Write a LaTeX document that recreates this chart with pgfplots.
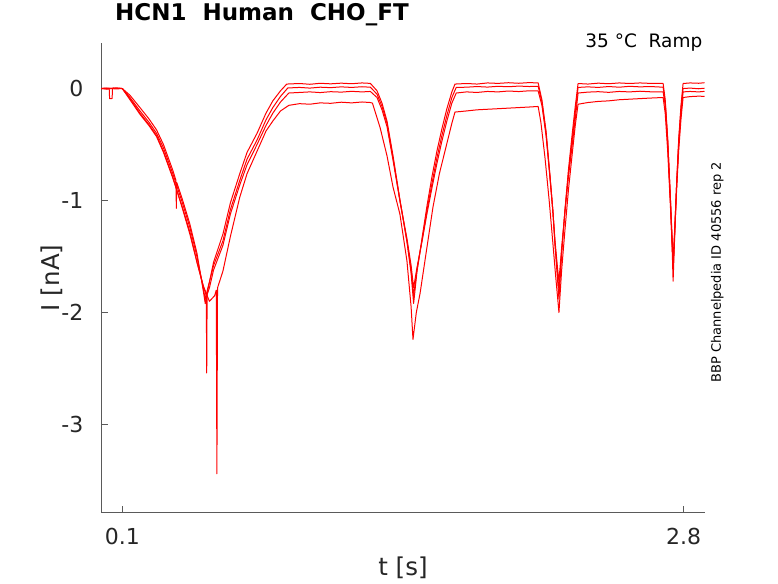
\documentclass[border=0pt]{standalone}
\usepackage{fontspec}
\setmainfont{DejaVu Sans}
\usepackage{pgfplots}
\pgfplotsset{compat=1.18}
\definecolor{axisgray}{RGB}{90,90,90}
\definecolor{labelgray}{RGB}{38,38,38}
\tikzset{tr/.style={red, mark=none, line width=1.0pt, line join=round}}
\begin{document}
\begin{tikzpicture}
\path[use as bounding box] (-101.5pt,-70.7pt) rectangle (676.5pt,512.3pt);
\begin{axis}[
  scale only axis, width=603pt, height=469pt,
  xmin=0, xmax=2.9, ymin=-3.784, ymax=0.404,
  axis line style={draw=none},
  tick pos=left,
  tick align=inside, major tick length=6pt,
  tick style={draw=axisgray, line width=0.7pt},
  xtick={0.1,2.8}, xticklabels={0.1,2.8},
  ytick={-3,-2,-1,0}, yticklabels={-3,-2,-1,0},
  /pgf/number format/assume math mode=true,
  ticklabel style={font=\fontsize{22}{26}\selectfont, text=labelgray},
  yticklabel style={anchor=east, inner sep=0pt, xshift=-18pt},
  xticklabel style={anchor=north, inner sep=0pt, yshift=-16pt},
  xlabel={t [s]}, ylabel={I [nA]},
  xlabel style={at={(axis description cs:0.5,-0.1173)}, anchor=center, inner sep=0pt, font=\fontsize{24.5}{28}\selectfont, text=labelgray},
  ylabel style={at={(axis description cs:-0.0828,0.5)}, anchor=center, inner sep=0pt, font=\fontsize{24.5}{28}\selectfont, text=labelgray},
  title={HCN1~~Human~~CHO\_FT},
  title style={at={(axis description cs:0.0224,1.0362)}, anchor=base west, inner sep=0pt, font=\bfseries\fontsize{23}{27}\selectfont},
  clip=false,
]
\draw[axisgray, line width=0.7pt] (axis cs:0,0.404) -- (axis cs:0,-3.784) -- (axis cs:2.9,-3.784);
% trace A
\addplot[tr] coordinates {
(0,0) (0.017,0.005) (0.037,0) (0.039,-0.09) (0.051,-0.09) (0.053,0) (0.077,0.005) (0.1,0)
(0.137,-0.06) (0.185,-0.17) (0.228,-0.27) (0.265,-0.37) (0.298,-0.50) (0.343,-0.73) (0.358,-0.82) (0.360,-1.07) (0.362,-0.84) (0.389,-0.99) (0.425,-1.21) (0.459,-1.47) (0.489,-1.80) (0.499,-1.92)
(0.509,-1.82) (0.539,-1.55) (0.584,-1.30) (0.620,-1.02) (0.665,-0.76) (0.700,-0.57) (0.748,-0.40) (0.791,-0.22) (0.824,-0.11) (0.861,-0.02) (0.891,0.04)
(0.952,0.045) (1.002,0.038) (1.052,0.047) (1.102,0.042) (1.153,0.048) (1.203,0.043) (1.253,0.05) (1.293,0.046)
(1.325,-0.02) (1.349,-0.13) (1.373,-0.29) (1.402,-0.60) (1.435,-0.99) (1.469,-1.37) (1.489,-1.65) (1.501,-1.92) (1.517,-1.64) (1.542,-1.33) (1.566,-1.04) (1.590,-0.78) (1.613,-0.56) (1.637,-0.36) (1.661,-0.18) (1.685,-0.03) (1.700,0.04)
(1.756,0.045) (1.806,0.04) (1.856,0.05) (1.907,0.046) (1.957,0.052) (2.007,0.047) (2.057,0.053) (2.100,0.05)
(2.118,-0.10) (2.138,-0.38) (2.157,-0.78) (2.171,-1.10) (2.181,-1.40) (2.193,-1.70) (2.200,-1.88) (2.213,-1.48) (2.229,-1.08) (2.246,-0.72) (2.264,-0.40) (2.279,-0.15) (2.292,0.045)
(2.339,0.04) (2.389,0.048) (2.439,0.043) (2.490,0.05) (2.540,0.045) (2.590,0.05) (2.640,0.046) (2.701,0.045)
(2.711,-0.10) (2.723,-0.45) (2.736,-1.00) (2.744,-1.40) (2.749,-1.72) (2.756,-1.35) (2.766,-0.85) (2.776,-0.45) (2.787,-0.15) (2.797,0.045)
(2.831,0.05) (2.872,0.047) (2.9,0.052)
};
% trace B
\addplot[tr] coordinates {
(0,0) (0.027,-0.005) (0.057,0.005) (0.1,0)
(0.137,-0.08) (0.185,-0.20) (0.228,-0.30) (0.265,-0.40) (0.298,-0.53) (0.343,-0.76) (0.389,-1.02) (0.425,-1.24) (0.459,-1.50) (0.489,-1.78) (0.499,-1.88)
(0.509,-1.80) (0.539,-1.58) (0.584,-1.36) (0.620,-1.08) (0.665,-0.82) (0.700,-0.63) (0.748,-0.46) (0.791,-0.28) (0.824,-0.17) (0.861,-0.07) (0.896,0.005)
(0.952,0.01) (1.002,0.004) (1.052,0.012) (1.102,0.008) (1.153,0.015) (1.203,0.01) (1.253,0.016) (1.293,0.012)
(1.325,-0.05) (1.349,-0.16) (1.373,-0.31) (1.402,-0.62) (1.435,-1.00) (1.469,-1.36) (1.489,-1.62) (1.501,-1.85) (1.517,-1.62) (1.542,-1.35) (1.566,-1.08) (1.590,-0.84) (1.613,-0.62) (1.637,-0.42) (1.661,-0.24) (1.685,-0.08) (1.706,0.01)
(1.756,0.012) (1.806,0.018) (1.856,0.013) (1.907,0.02) (1.957,0.016) (2.007,0.022) (2.057,0.018) (2.100,0.02)
(2.118,-0.12) (2.138,-0.40) (2.157,-0.79) (2.171,-1.10) (2.181,-1.38) (2.193,-1.65) (2.200,-1.80) (2.213,-1.45) (2.229,-1.09) (2.246,-0.75) (2.264,-0.45) (2.279,-0.20) (2.292,0.01)
(2.339,0.015) (2.389,0.01) (2.439,0.018) (2.490,0.012) (2.540,0.02) (2.590,0.015) (2.640,0.018) (2.701,0.012)
(2.711,-0.12) (2.723,-0.46) (2.736,-0.98) (2.744,-1.35) (2.749,-1.62) (2.756,-1.30) (2.766,-0.85) (2.776,-0.47) (2.787,-0.18) (2.797,0.0)
(2.831,0.004) (2.872,-0.002) (2.9,0.003)
};
% trace C
\addplot[tr] coordinates {
(0,0) (0.037,0.004) (0.067,-0.004) (0.1,0)
(0.137,-0.10) (0.185,-0.23) (0.228,-0.33) (0.265,-0.43) (0.298,-0.57) (0.343,-0.80) (0.389,-1.06) (0.425,-1.28) (0.459,-1.55) (0.489,-1.76) (0.504,-1.85) (0.506,-2.54) (0.508,-1.84)
(0.519,-1.78) (0.539,-1.62) (0.584,-1.40) (0.620,-1.12) (0.665,-0.86) (0.700,-0.68) (0.748,-0.50) (0.791,-0.33) (0.824,-0.22) (0.861,-0.12) (0.901,-0.04)
(0.952,-0.035) (1.002,-0.03) (1.052,-0.036) (1.102,-0.028) (1.153,-0.032) (1.203,-0.025) (1.253,-0.03) (1.293,-0.026)
(1.325,-0.08) (1.349,-0.19) (1.373,-0.34) (1.402,-0.64) (1.435,-1.00) (1.469,-1.34) (1.489,-1.58) (1.501,-1.78) (1.517,-1.60) (1.542,-1.36) (1.566,-1.11) (1.590,-0.88) (1.613,-0.67) (1.637,-0.47) (1.661,-0.29) (1.685,-0.13) (1.706,-0.04)
(1.756,-0.03) (1.806,-0.035) (1.856,-0.026) (1.907,-0.03) (1.957,-0.022) (2.007,-0.027) (2.057,-0.02) (2.100,-0.022)
(2.118,-0.15) (2.138,-0.42) (2.157,-0.80) (2.171,-1.10) (2.181,-1.36) (2.193,-1.60) (2.200,-1.72) (2.213,-1.42) (2.229,-1.10) (2.246,-0.78) (2.264,-0.50) (2.279,-0.26) (2.292,-0.04)
(2.339,-0.032) (2.389,-0.028) (2.439,-0.034) (2.490,-0.026) (2.540,-0.03) (2.590,-0.024) (2.640,-0.029) (2.701,-0.03)
(2.711,-0.15) (2.723,-0.48) (2.736,-0.98) (2.744,-1.32) (2.749,-1.55) (2.756,-1.28) (2.766,-0.86) (2.776,-0.50) (2.787,-0.22) (2.797,-0.03)
(2.831,-0.026) (2.872,-0.03) (2.9,-0.025)
};
% trace D
\addplot[tr] coordinates {
(0,0) (0.032,-0.004) (0.062,0.004) (0.1,0)
(0.137,-0.09) (0.185,-0.22) (0.228,-0.32) (0.265,-0.42) (0.298,-0.56) (0.343,-0.79) (0.389,-1.07) (0.425,-1.30) (0.459,-1.55) (0.489,-1.76) (0.519,-1.90) (0.544,-1.85) (0.552,-1.80) (0.555,-3.44) (0.558,-1.78) (0.584,-1.63) (0.620,-1.32) (0.665,-0.97) (0.700,-0.76) (0.748,-0.56) (0.791,-0.38) (0.824,-0.29) (0.861,-0.20) (0.901,-0.15)
(0.952,-0.135) (1.002,-0.14) (1.052,-0.128) (1.102,-0.132) (1.153,-0.122) (1.203,-0.128) (1.253,-0.12) (1.293,-0.125)
(1.303,-0.13) (1.340,-0.35) (1.373,-0.60) (1.402,-0.88) (1.435,-1.12) (1.469,-1.54) (1.489,-1.95) (1.498,-2.24) (1.514,-2.00) (1.532,-1.83) (1.565,-1.42) (1.594,-1.06) (1.625,-0.76) (1.661,-0.49) (1.685,-0.31) (1.700,-0.21)
(1.756,-0.2) (1.806,-0.19) (1.856,-0.185) (1.907,-0.18) (1.957,-0.175) (2.007,-0.17) (2.057,-0.165) (2.100,-0.16)
(2.113,-0.30) (2.133,-0.62) (2.153,-1.00) (2.168,-1.32) (2.183,-1.65) (2.200,-2.00) (2.213,-1.62) (2.229,-1.26) (2.246,-0.90) (2.264,-0.58) (2.279,-0.32) (2.292,-0.14)
(2.339,-0.125) (2.389,-0.115) (2.439,-0.11) (2.490,-0.1) (2.540,-0.095) (2.590,-0.09) (2.640,-0.085) (2.701,-0.08)
(2.711,-0.22) (2.723,-0.56) (2.736,-1.05) (2.744,-1.38) (2.749,-1.58) (2.756,-1.32) (2.766,-0.90) (2.776,-0.55) (2.787,-0.27) (2.797,-0.08)
(2.831,-0.072) (2.872,-0.068) (2.9,-0.07)
};
\node[anchor=base east, inner sep=0pt, font=\fontsize{18.5}{22}\selectfont, text=black] at (axis description cs:0.9967,0.9908) {35 °C~~Ramp};
\node[rotate=90, anchor=center, inner sep=0pt, font=\fontsize{13}{15}\selectfont, text=black] at (axis description cs:1.021,0.512) {BBP Channelpedia ID 40556 rep 2};
\end{axis}
\end{tikzpicture}
\end{document}
